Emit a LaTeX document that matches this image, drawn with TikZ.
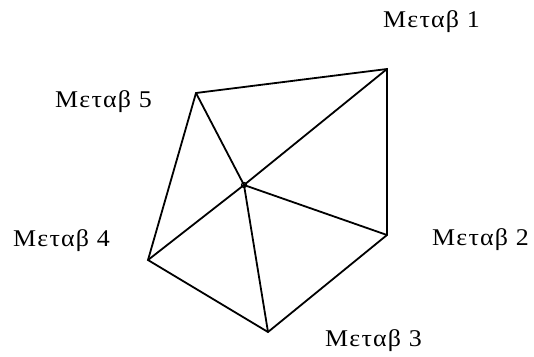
\documentclass[tikz,border=0pt]{standalone}
\usepackage{fontspec}
\setmainfont{Liberation Serif}
\newfontfamily\lblfont[LetterSpace=5,FakeStretch=1.08]{Liberation Serif}
\begin{document}
\begin{tikzpicture}[x=1pt,y=-1pt,
  edge/.style={line width=1.8pt,line join=miter},
  lbl/.style={anchor=base west,inner sep=0pt,font=\lblfont\fontsize{24}{28}\selectfont}]
\useasboundingbox (0,0) rectangle (534,356);
\coordinate (v1) at (387,69);
\coordinate (v2) at (387,235);
\coordinate (v3) at (268,332);
\coordinate (v4) at (148,260);
\coordinate (v5) at (196,93);
\coordinate (c) at (244,185);
\draw[edge] (v1) -- (v2) -- (v3) -- (v4) -- (v5) -- cycle;
\foreach \v in {v1,v2,v3,v4,v5} \draw[edge] (c) -- (\v);
\draw[line width=1.2pt] (c) circle (2.5);
\node[lbl] (l1) at (383,27) {Μεταβ 1};
\node[lbl] (l2) at (432,245) {Μεταβ 2};
\node[lbl] (l3) at (325,346) {Μεταβ 3};
\node[lbl] (l4) at (13,246) {Μεταβ 4};
\node[lbl] (l5) at (55,107) {Μεταβ 5};
\end{tikzpicture}
\end{document}
